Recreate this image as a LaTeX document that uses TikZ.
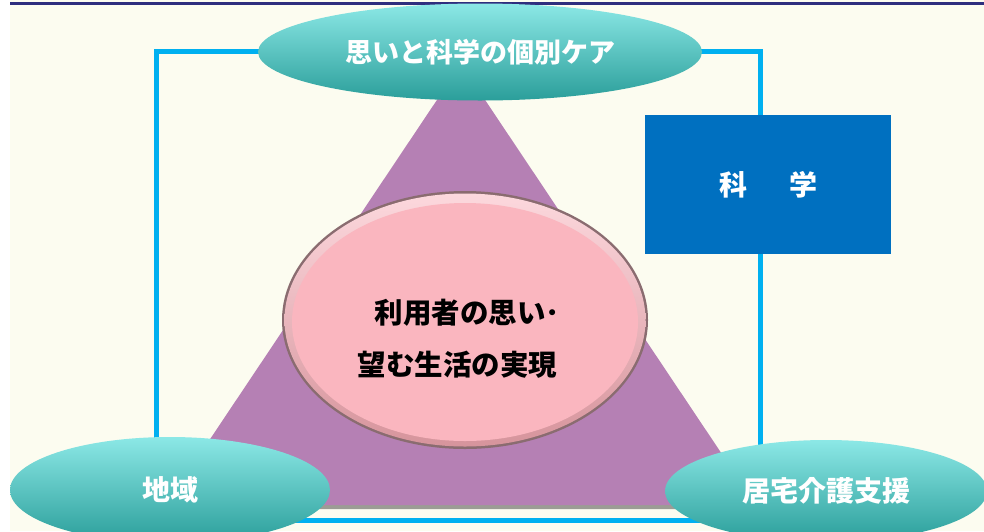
\documentclass[tikz,border=0pt]{standalone}
\usepackage{fontspec}
\newfontfamily\cjk{Noto Sans CJK JP}
\usetikzlibrary{shapes.geometric}
\definecolor{bgivory}{HTML}{FCFCF0}
\definecolor{navyline}{HTML}{2E2E7E}
\definecolor{frameblue}{HTML}{00B0F0}
\definecolor{triviolet}{HTML}{B580B4}
\definecolor{boxblue}{HTML}{0070C0}
\definecolor{tealtop}{HTML}{8CE8E6}
\definecolor{tealmid}{HTML}{48D8D4}
\definecolor{tealbot}{HTML}{2A9E9A}
\definecolor{pinkfill}{HTML}{FAB6BF}
\definecolor{pinklight}{HTML}{FCD8DD}
\definecolor{pinkdark}{HTML}{D6949C}
\definecolor{pinkrim}{HTML}{8A6C70}
\tikzset{
  tealoval/.style={ellipse, inner sep=0pt, top color=tealtop, middle color=tealmid, bottom color=tealbot,
    text=white, font=\cjk\bfseries\fontsize{28}{32}\selectfont},
}
\begin{document}
\begin{tikzpicture}[x=1pt,y=-1pt]
\useasboundingbox (0,0) rectangle (984,531);
\fill[white] (0,0) rectangle (984,531);
\fill[bgivory] (10,0) rectangle (984,531);
\draw[navyline, line width=3pt] (10,3) -- (984,3);
% frame
\draw[frameblue, line width=5pt] (156,51) rectangle (760,520);
% triangle with shadow
\fill[black!38!bgivory] (462,68) -- (758,509) -- (168,509) -- cycle;
\fill[triviolet] (461,64) -- (756,505) -- (166,505) -- cycle;
% science box
\node[fill=boxblue, minimum width=246pt, minimum height=139pt, inner sep=0pt, text=white,
  font=\cjk\bfseries\fontsize{28}{32}\selectfont] (sci) at (768,184.5) {科\hspace{42pt}学};
% center ellipse
\node[ellipse, minimum width=366pt, minimum height=258pt, inner sep=0pt, fill=pinkrim] (rimc) at (465,320) {};
\node[ellipse, minimum width=361pt, minimum height=253pt, inner sep=0pt,
  top color=pinklight, bottom color=pinkdark] (core) at (465,320) {};
\node[ellipse, minimum width=346pt, minimum height=238pt, inner sep=0pt, fill=pinkfill] (face) at (465,322) {};
\node[align=left, font=\cjk\bfseries\fontsize{28.5}{52}\selectfont, text=black] (ctext) at (459,339)
  {\hspace{17pt}利用者の思い･\\望む生活の実現};
% teal ovals
\node[tealoval, minimum width=444pt, minimum height=97pt, font=\cjk\bfseries\fontsize{27}{32}\selectfont] (care) at (480,52) {思いと科学の個別ケア};
\node[tealoval, minimum width=320pt, minimum height=106pt] (area) at (170,490) {地域};
\node[tealoval, minimum width=322pt, minimum height=102pt] (home) at (826,491) {居宅介護支援};
\end{tikzpicture}
\end{document}
